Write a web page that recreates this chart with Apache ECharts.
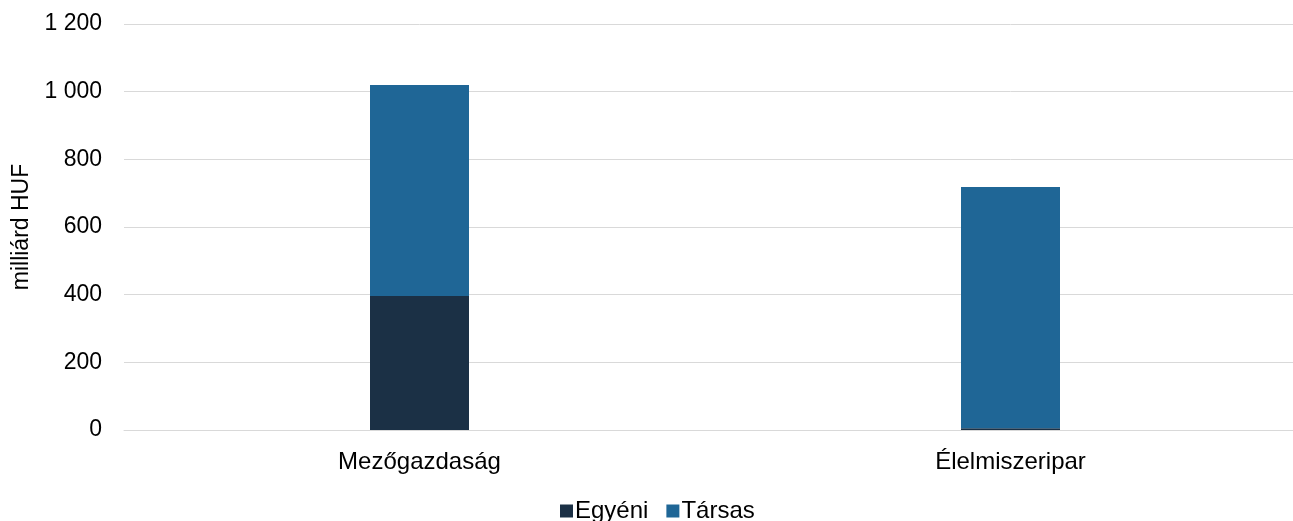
<!DOCTYPE html>
<html>
<head>
<meta charset="utf-8">
<script src="https://cdn.jsdelivr.net/npm/echarts@6/dist/echarts.min.js"></script>
<style>
  html, body { margin: 0; padding: 0; background: #fff; overflow: hidden; }
  /* a rács jobb széle kilóg a képből, ezért szélesebb a vászon */
  #chart { width: 1306px; height: 521px; }
</style>
</head>
<body>
<div id="chart"></div>
<script>
// adatok
var categories = ["Mezőgazdaság", "Élelmiszeripar"];
var egyeni = [396, 5];
var tarsas = [624, 713];
var yTicks = [0, 200, 400, 600, 800, 1000, 1200];

var font = "Liberation Sans, Arial, sans-serif";

function fmt(v) {
  // ezres elválasztó: szóköz
  return String(v).replace(/\B(?=(\d{3})+(?!\d))/g, " ");
}

var chart = echarts.init(document.getElementById("chart"));
chart.setOption({
  animation: false,
  textStyle: { fontFamily: font },
  grid: { left: 124, right: 0, top: 24, bottom: 91, containLabel: false },
  legend: {
    bottom: -7,
    left: 555,
    itemWidth: 13,
    itemHeight: 13,
    itemGap: 18,
    icon: "rect",
    textStyle: { fontFamily: font, fontSize: 24, color: "#000", padding: [0, 0, 0, -3] },
    data: ["Egyéni", "Társas"]
  },
  xAxis: {
    type: "category",
    data: categories,
    axisLine: { lineStyle: { color: "#d9d9d9" } },
    axisTick: { show: false },
    axisLabel: { fontFamily: font, fontSize: 24, color: "#000", margin: 20 }
  },
  yAxis: {
    type: "value",
    min: yTicks[0],
    max: yTicks[yTicks.length - 1],
    interval: 200,
    name: "milliárd HUF",
    nameLocation: "middle",
    nameGap: 81,
    nameTextStyle: { fontFamily: font, fontSize: 23, color: "#000" },
    axisLine: { show: false },
    axisTick: { show: false },
    splitLine: { lineStyle: { color: "#d9d9d9" } },
    axisLabel: { fontFamily: font, fontSize: 23, color: "#000", margin: 22, padding: [3, 0, 0, 0], formatter: fmt }
  },
  series: [
    {
      name: "Egyéni",
      type: "bar",
      stack: "total",
      barWidth: 99,
      data: egyeni,
      itemStyle: { color: "#1b3045" }
    },
    {
      name: "Társas",
      type: "bar",
      stack: "total",
      barWidth: 99,
      data: tarsas,
      itemStyle: { color: "#1f6696" }
    }
  ]
});
</script>
</body>
</html>
